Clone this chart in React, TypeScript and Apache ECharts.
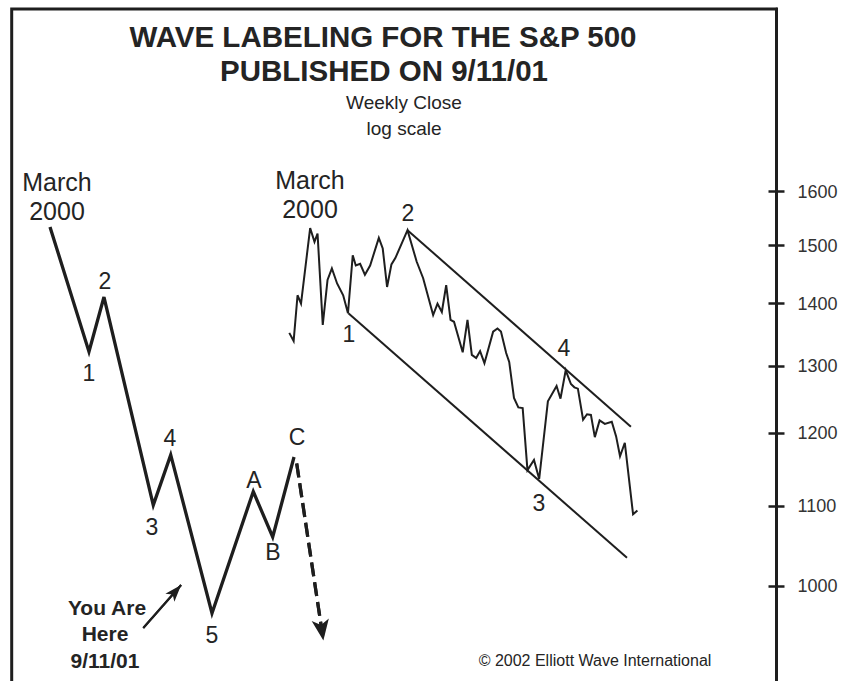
import React, { useEffect, useRef } from "react";
import * as echarts from "echarts";

// ---- Weekly closes of the S&P 500 (week index from late Feb 2000) ----
const weeks = [0, 1.0, 1.9, 2.7, 4.8, 5.8, 6.5, 7.7, 8.8, 9.8, 11.0, 12.4, 13.5, 14.6, 15.3, 16.3, 17.4, 18.6, 20.6, 21.5, 22.5, 23.5, 24.4, 27.2, 29.3, 30.8, 33.1, 34.1, 35.1, 36.1, 37.1, 37.9, 39.9, 41.0, 42.0, 43.0, 43.9, 44.9, 46.9, 47.9, 48.7, 49.9, 50.6, 51.7, 52.7, 53.7, 54.8, 56.3, 57.5, 59.5, 61.5, 62.4, 63.6, 64.8, 65.6, 66.4, 67.6, 68.5, 69.4, 70.3, 71.4, 72.6, 74.2, 75.2, 76.1, 77.2, 79.1, 80.1];
const closes = [1352, 1339, 1414, 1400, 1532, 1507, 1522, 1365, 1440, 1460, 1434, 1414, 1384, 1483, 1465, 1468, 1449, 1465, 1514, 1495, 1428, 1467, 1478, 1528, 1472, 1443, 1381, 1400, 1386, 1431, 1373, 1370, 1321, 1373, 1317, 1312, 1323, 1304, 1354, 1359, 1354, 1320, 1306, 1251, 1237, 1236, 1148, 1162, 1136, 1246, 1269, 1250, 1293, 1272, 1267, 1265, 1219, 1227, 1226, 1194, 1218, 1213, 1216, 1195, 1167, 1186, 1089, 1094];

// ---- Channel lines (week, price) ----
const upperWeeks = [27.2, 78.6];
const upperPrices = [1528, 1209];
const lowerWeeks = [13.6, 77.7];
const lowerPrices = [1384, 1034];

// ---- Schematic wave (step units, price) ----
const waveSteps = [4.97, 10.07, 12.03, 18.48, 20.76, 26.16, 31.56, 34.1, 36.89];
const waveLevels = [1534, 1322, 1411, 1101, 1169, 968, 1119, 1060, 1166];
// projected decline after C (dashed arrow)
const projSteps = [37.24, 40.73];
const projLevels = [1157, 937];
// "You Are Here" pointer
const hereSteps = [17.17, 22.12];
const hereLevels = [951, 1001];

// ---- Axis ----
const priceTicks = [1000, 1100, 1200, 1300, 1400, 1500, 1600];
const priceMin = 892.8;
const priceMax = 1989;
const weekMin = -63.8;
const weekMax = 112.1;

const INK = "#1e1e1e";
const TXT = "#242424";
const FONT = '"Liberation Sans", Arial, Helvetica, sans-serif';

type Lbl = [string, number, number, number, string?];
const labels: Lbl[] = [
  ["WAVE LABELING FOR THE S&P 500", 383, 36, 29.5, "bold"],
  ["PUBLISHED ON 9/11/01", 384, 70, 29.5, "bold"],
  ["Weekly Close", 404, 102, 19],
  ["log scale", 404, 128, 19],
  ["March", 57, 182, 25],
  ["2000", 57, 211, 25],
  ["1", 89, 373, 23],
  ["2", 105, 281, 23],
  ["3", 152, 527, 23],
  ["4", 170, 438, 23],
  ["5", 212, 635, 23],
  ["A", 254, 480, 23],
  ["B", 273, 552, 23],
  ["C", 297, 437, 23],
  ["March", 310, 180, 25],
  ["2000", 310, 209, 25],
  ["1", 349, 334, 23],
  ["2", 408, 213, 23],
  ["3", 539, 503, 23],
  ["4", 564, 348, 23],
  ["You Are", 107, 607, 21, "bold"],
  ["Here", 105, 633, 21, "bold"],
  ["9/11/01", 105, 660, 21, "bold"],
  ["\u00A9 2002 Elliott Wave International", 595, 660, 16],
];

export default function App() {
  const ref = useRef<HTMLDivElement>(null);
  useEffect(() => {
    if (!ref.current) return;
    const chart = echarts.init(ref.current, undefined, { renderer: "svg" });
    const pair = (xs: number[], ys: number[]) => xs.map((x, i) => [x, ys[i]]);
    const option: any = {
      animation: false,
      backgroundColor: "#ffffff",
      grid: { left: 12, right: 74.5, top: 9, bottom: 0, containLabel: false },
      xAxis: [
        { type: "value", min: weekMin, max: weekMax, show: false, axisLine: { onZero: false } },
        { type: "value", min: 0, max: 100, show: false, axisLine: { onZero: false } },
      ],
      yAxis: [
        {
          type: "log",
          logBase: 10,
          min: priceMin,
          max: priceMax,
          position: "right",
          axisLine: { show: true, onZero: false, lineStyle: { color: INK, width: 3 } },
          axisTick: { show: true, inside: false, length: 8, customValues: priceTicks, lineStyle: { color: INK, width: 2.5 } },
          axisLabel: {
            show: true,
            customValues: priceTicks,
            margin: 21,
            color: "#333",
            fontSize: 18,
            fontFamily: FONT,
            formatter: (v: number) => String(Math.round(v)),
          },
          splitLine: { show: false },
          minorTick: { show: false },
        },
        {
          type: "log",
          logBase: 10,
          min: priceMin,
          max: priceMax,
          position: "right",
          axisLine: { show: false, onZero: false },
          axisTick: { show: true, inside: true, length: 8, customValues: priceTicks, lineStyle: { color: INK, width: 2.5 } },
          axisLabel: { show: false },
          splitLine: { show: false },
        },
      ],
      series: [
        {
          type: "line",
          name: "S&P 500 weekly close",
          xAxisIndex: 0,
          yAxisIndex: 0,
          data: pair(weeks, closes),
          symbol: "none",
          silent: true,
          lineStyle: { color: INK, width: 2, join: "miter" },
          z: 3,
        },
        {
          type: "line",
          name: "upper channel",
          xAxisIndex: 0,
          yAxisIndex: 0,
          data: pair(upperWeeks, upperPrices),
          symbol: "none",
          silent: true,
          lineStyle: { color: INK, width: 2 },
        },
        {
          type: "line",
          name: "lower channel",
          xAxisIndex: 0,
          yAxisIndex: 0,
          data: pair(lowerWeeks, lowerPrices),
          symbol: "none",
          silent: true,
          lineStyle: { color: INK, width: 2 },
        },
        {
          type: "line",
          name: "wave schematic",
          xAxisIndex: 1,
          yAxisIndex: 0,
          data: pair(waveSteps, waveLevels),
          symbol: "none",
          silent: true,
          lineStyle: { color: INK, width: 3.3, join: "miter" },
        },
        {
          type: "line",
          name: "projection",
          xAxisIndex: 1,
          yAxisIndex: 0,
          data: pair(projSteps, projLevels),
          symbol: "none",
          silent: true,
          lineStyle: { color: INK, width: 3.2, type: [14, 6] },
          markLine: {
            silent: true,
            symbol: ["none", "arrow"],
            symbolSize: [13, 21],
            label: { show: false },
            lineStyle: { color: INK, width: 3.2, type: [14, 6] },
            emphasis: { disabled: true },
            data: [[{ coord: [projSteps[0], projLevels[0]] }, { coord: [projSteps[1], projLevels[1]] }]],
          },
        },
        {
          type: "line",
          name: "you are here",
          xAxisIndex: 1,
          yAxisIndex: 0,
          data: pair(hereSteps, hereLevels),
          symbol: "none",
          silent: true,
          lineStyle: { color: INK, width: 2 },
          markLine: {
            silent: true,
            symbol: ["none", "arrow"],
            symbolSize: [9, 17],
            label: { show: false },
            lineStyle: { color: INK, width: 2, type: "solid" },
            emphasis: { disabled: true },
            data: [[{ coord: [hereSteps[0], hereLevels[0]] }, { coord: [hereSteps[1], hereLevels[1]] }]],
          },
        },
      ],
      graphic: [
        {
          type: "polyline",
          silent: true,
          shape: { points: [[11.7, 700], [11.7, 9], [776.5, 9], [776.5, 700]] },
          style: { stroke: INK, lineWidth: 3, fill: "none", lineJoin: "miter" },
        },
        ...labels.map(([text, x, y, size, weight]) => ({
          type: "text",
          silent: true,
          x,
          y,
          style: {
            text,
            align: "center",
            verticalAlign: "middle",
            fontSize: size,
            fontWeight: weight || "normal",
            fontFamily: FONT,
            fill: TXT,
          },
        })),
      ],
    };
    chart.setOption(option);
    return () => chart.dispose();
  }, []);
  return (
    <div
      ref={ref}
      style={{ position: "fixed", left: 0, top: 0, width: 851, height: 681, background: "#fff" }}
    />
  );
}
